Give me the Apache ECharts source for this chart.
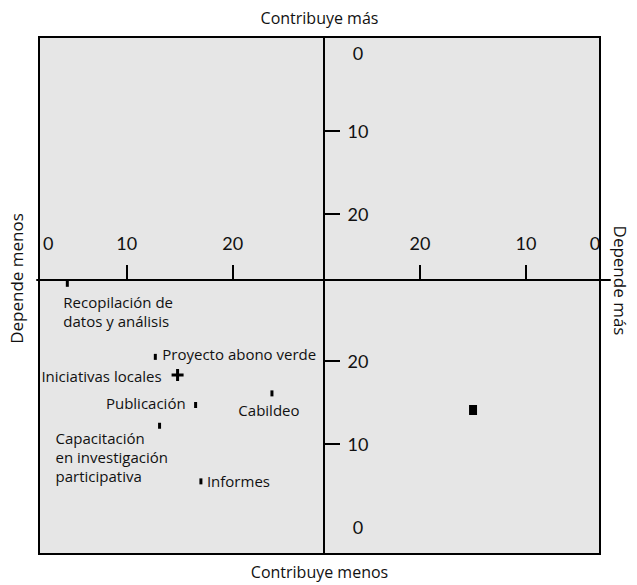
<!DOCTYPE html>
<html><head><meta charset="utf-8">
<script src="https://cdn.jsdelivr.net/npm/echarts@6/dist/echarts.min.js"></script>
<style>html,body{margin:0;padding:0;background:#fff}#c{width:637px;height:585px}</style>
</head><body><div id="c"></div>
<script>
// ---- data ----
const tickValues = [0, 10, 20];
const xTickLabels = ['0', '10', '20'];
const yTickLabels = ['0', '10', '20'];
const activityNames = [
  'Recopilación de\ndatos y análisis',
  'Proyecto abono verde',
  'Iniciativas locales',
  'Publicación',
  'Cabildeo',
  'Capacitación\nen investigación\nparticipativa',
  'Informes'
];
const activityDependence = [4.4, 12.7, 14.8, 16.5, 23.7, 13.1, 17.0];   // left half, 0 at left edge
const activityContribution = [29.3, 20.5, 18.3, 14.7, 16.1, 12.2, 5.5]; // bottom half, 0 at bottom
const orgDependence = [15.0];   // right half, 0 at right edge
const orgContribution = [14.1]; // bottom half
const titleTop = 'Contribuye más';
const titleBottom = 'Contribuye menos';
const titleLeft = 'Depende menos';
const titleRight = 'Depende más';

// ---- layout ----
const L_X = [1.54, 28.61];
const R_X = [2.08, 29.06];
const T_Y = [-1.25, 27.9];
const B_Y = [-3.25, 29.76];
const zeroLabelLeft = 2.6, zeroLabelRight = 3.5, zeroLabelTop = 0.7, zeroLabelBottom = 0;
const ink = '#111';
const tickFont = { fontFamily: 'Lato', fontSize: 18, color: ink };
const noteFont = { fontFamily: 'Open Sans', fontSize: 15, color: ink, lineHeight: 19 };
const titleFont = { fontFamily: 'Open Sans', fontSize: 16, color: ink };
const sideTitleFont = { fontFamily: 'Open Sans', fontSize: 17, color: ink };

function labelVals(zeroAt) { return tickValues.map(v => v === 0 ? zeroAt : v); }
function fmt(vals, labels) {
  return function (v) { const i = vals.indexOf(v); return i >= 0 ? labels[i] : ''; };
}
const lineStyle = { color: '#000', width: 2 };
function xCenterAxis(grid, ext, inverse, zeroAt) {
  const vals = labelVals(zeroAt);
  return {
    type: 'value', gridIndex: grid, min: ext[0], max: ext[1], inverse: inverse, position: 'bottom',
    axisLine: { show: true, onZero: false, lineStyle: lineStyle },
    axisTick: { show: true, inside: true, length: 15, lineStyle: lineStyle, customValues: tickValues.filter(v => v > 0) },
    axisLabel: Object.assign({ show: true, inside: true, margin: 28, customValues: vals, formatter: fmt(vals, xTickLabels) }, tickFont),
    splitLine: { show: false }
  };
}
function yCenterAxis(grid, ext, inverse, zeroAt) {
  const vals = labelVals(zeroAt);
  return {
    type: 'value', gridIndex: grid, min: ext[0], max: ext[1], inverse: inverse, position: 'left',
    axisLine: { show: true, onZero: false, lineStyle: lineStyle },
    axisTick: { show: true, inside: true, length: 16, lineStyle: lineStyle, customValues: tickValues.filter(v => v > 0) },
    axisLabel: Object.assign({ show: true, inside: true, margin: 34, align: 'center', customValues: vals, formatter: fmt(vals, yTickLabels) }, tickFont),
    splitLine: { show: false }
  };
}
function hiddenAxis(grid, ext, inverse) {
  return { type: 'value', gridIndex: grid, min: ext[0], max: ext[1], inverse: inverse, show: false,
    axisLine: { onZero: false }, splitLine: { show: false } };
}
function nameAxis(pos, name, gap, style, extra) {
  return Object.assign({
    type: 'value', gridIndex: 0, min: 0, max: 1, position: pos, name: name, nameLocation: 'middle', nameGap: gap,
    nameTextStyle: style, axisLine: { show: false, onZero: false }, axisTick: { show: false },
    axisLabel: { show: false }, splitLine: { show: false }
  }, extra || {});
}

const labelLayout = [
  { position: [-2.5, 30.5], align: 'left' },
  { position: [8.5, 0], align: 'left' },
  { position: [-10, 7], align: 'right' },
  { position: [-8.5, 1], align: 'right' },
  { position: [-1.5, 20], align: 'center' },
  { position: [-102.5, 34.5], align: 'left' },
  { position: [7.5, 3], align: 'left' }
];
const crossPath = 'path://M0,4.5H4.5V0H7.5V4.5H12V7.5H7.5V12H4.5V7.5H0Z';

const activityData = activityNames.map((n, i) => ({
  name: n,
  value: [activityDependence[i], activityContribution[i]],
  symbol: i === 2 ? crossPath : 'rect',
  symbolSize: i === 2 ? 12 : [3, 6],
  label: Object.assign({ show: true, formatter: '{b}', verticalAlign: 'middle' }, noteFont, labelLayout[i])
}));
const orgData = orgDependence.map((d, i) => [d, orgContribution[i]]);

const option = {
  animation: false,
  grid: [
    { left: 37, top: 37, width: 573, height: 517, show: true, backgroundColor: '#e6e6e6', borderColor: '#000', borderWidth: 2 },
    { left: 37, top: 37, width: 287, height: 243 },
    { left: 324, top: 37, width: 286, height: 243 },
    { left: 37, top: 280, width: 287, height: 274 },
    { left: 324, top: 280, width: 286, height: 274 }
  ],
  xAxis: [
    nameAxis('top', titleTop, 11, titleFont),
    nameAxis('bottom', titleBottom, 10, titleFont),
    xCenterAxis(1, L_X, false, zeroLabelLeft),
    xCenterAxis(2, R_X, true, zeroLabelRight),
    hiddenAxis(3, L_X, false),
    hiddenAxis(4, R_X, true)
  ],
  yAxis: [
    nameAxis('left', titleLeft, 14, Object.assign({ padding: [0, 0, 0, 34] }, sideTitleFont)),
    nameAxis('right', titleRight, 12, Object.assign({ padding: [0, 30, 0, 0] }, sideTitleFont), { nameRotate: -90 }),
    hiddenAxis(1, T_Y, true),
    yCenterAxis(2, T_Y, true, zeroLabelTop),
    hiddenAxis(3, B_Y, false),
    yCenterAxis(4, B_Y, false, zeroLabelBottom)
  ],
  series: [
    { type: 'scatter', xAxisIndex: 4, yAxisIndex: 4, data: activityData,
      itemStyle: { color: '#000', opacity: 1 }, emphasis: { disabled: true } },
    { type: 'scatter', xAxisIndex: 5, yAxisIndex: 5, data: orgData, symbol: 'rect', symbolSize: [8, 10],
      itemStyle: { color: '#000', opacity: 1 }, emphasis: { disabled: true } }
  ]
};
const chart = echarts.init(document.getElementById('c'), null, { renderer: 'svg' });
chart.setOption(option);
</script>
</body></html>
